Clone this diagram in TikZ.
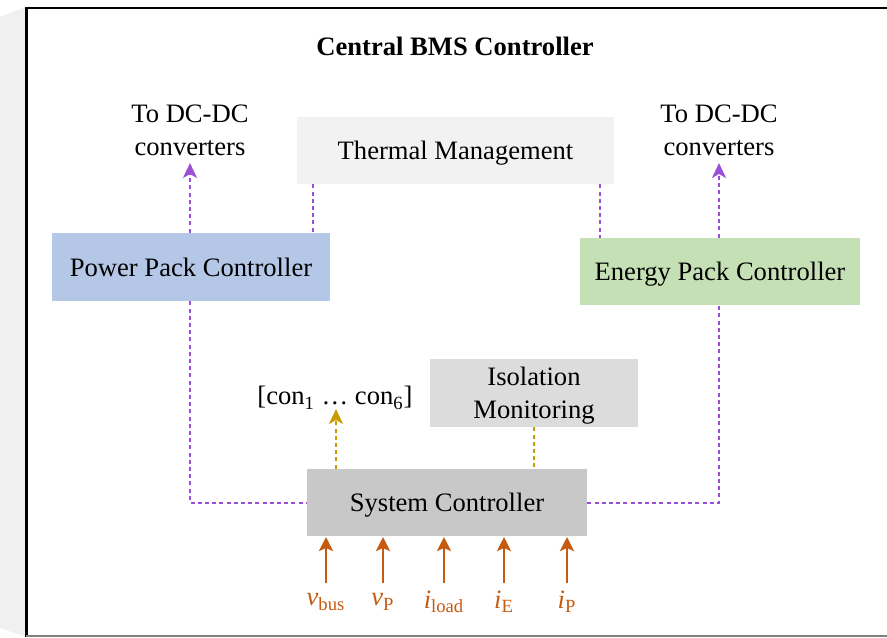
\documentclass[tikz,border=0pt]{standalone}
\usepackage{fontspec}
\setmainfont{Liberation Serif}
\usetikzlibrary{arrows.meta,positioning,calc}

\definecolor{ppblue}{HTML}{B4C7E7}
\definecolor{epgreen}{HTML}{C5E0B4}
\definecolor{thgray}{HTML}{F2F2F2}
\definecolor{isogray}{HTML}{DCDCDC}
\definecolor{sysgray}{HTML}{C8C8C8}
\definecolor{sigpurple}{HTML}{9B4FD8}
\definecolor{siggold}{HTML}{C89B00}
\definecolor{inorange}{HTML}{C55A11}
\definecolor{shadegray}{HTML}{F0F0F0}

\tikzset{
  blk/.style={inner sep=0pt, align=center, text depth=0pt},
  lbl/.style={inner sep=1pt, align=center},
  purpline/.style={sigpurple, line width=1pt, dash pattern=on 2pt off 1.6pt},
  goldline/.style={siggold, line width=1pt, dash pattern=on 2pt off 1.6pt},
  sigtip/.style={-{Stealth[length=7.5pt,width=7pt,inset=2pt]}},
  inarrow/.style={inorange, line width=1.4pt, -{Stealth[length=7pt,width=7pt,inset=1.5pt]}},
}

\begin{document}
\begin{tikzpicture}[x=0.5pt,y=-0.5pt,font=\fontsize{13.3}{16.5}\selectfont]
  \useasboundingbox (0,0) rectangle (887,637);
  % page shade and frame
  \fill[shadegray] (0,17) -- (26,7) -- (26,637) -- (0,628) -- cycle;
  \draw[black, line width=1.3pt] (26.5,637) -- (26.5,8) -- (890,8);
  \draw[gray, line width=0.8pt] (26,636) -- (890,636);

  \node[lbl] (title) at (455,46) {\textbf{Central BMS Controller}};

  % blocks
  \node[blk, fill=thgray, minimum width=158.5pt, minimum height=33.5pt] (thm) at (455.5,150.5) {Thermal Management};
  \node[blk, fill=ppblue, minimum width=139pt, minimum height=34pt] (pp) at (191,267) {Power Pack Controller};
  \node[blk, fill=epgreen, minimum width=140pt, minimum height=33.5pt] (ep) at (720,271.5) {Energy Pack Controller};
  \node[blk, fill=isogray, minimum width=104pt, minimum height=34pt] (iso) at (534,393) {Isolation\\Monitoring};
  \node[blk, fill=sysgray, minimum width=140pt, minimum height=33.5pt] (sys) at (447,502.5) {System Controller};

  % texts
  \node[lbl] (dcl) at (190,130) {To DC-DC\\converters};
  \node[lbl] (dcr) at (719,130) {To DC-DC\\converters};
  \node[lbl] (con) at (335,398) {[con\textsubscript{1} … con\textsubscript{6}]};

  \coordinate (dcltip) at (190,163);
  \coordinate (dcrtip) at (719,163);
  \coordinate (contip) at (336,409);

  % purple links
  \draw[purpline, sigtip] (pp.north -| dcltip) -- (dcltip);
  \draw[purpline, sigtip] (ep.north -| dcrtip) -- (dcrtip);
  \draw[purpline] (pp.south -| dcltip) |- (sys.west);
  \draw[purpline] (sys.east) -| (ep.south -| dcrtip);
  \draw[purpline] ([xshift=8pt]thm.south west) -- ([xshift=8pt]thm.south west |- pp.north);
  \draw[purpline] ([xshift=-7pt]thm.south east) -- ([xshift=-7pt]thm.south east |- ep.north);

  % gold links
  \draw[goldline, sigtip] (sys.north -| contip) -- (contip);
  \draw[goldline] (iso.south) -- (iso.south |- sys.north);

  % measured inputs
  \foreach \nm/\xx/\txt in {vb/326/\textit{v}\textsubscript{bus},
                            vp/383/\textit{v}\textsubscript{P},
                            il/444/\textit{i}\textsubscript{load},
                            ie/504/\textit{i}\textsubscript{E},
                            ip/567/\textit{i}\textsubscript{P}} {
    \node[lbl, text=inorange] (\nm) at (\xx,602) {\txt};
    \draw[inarrow] (\xx,583) -- (\xx,537);
  }
\end{tikzpicture}
\end{document}
